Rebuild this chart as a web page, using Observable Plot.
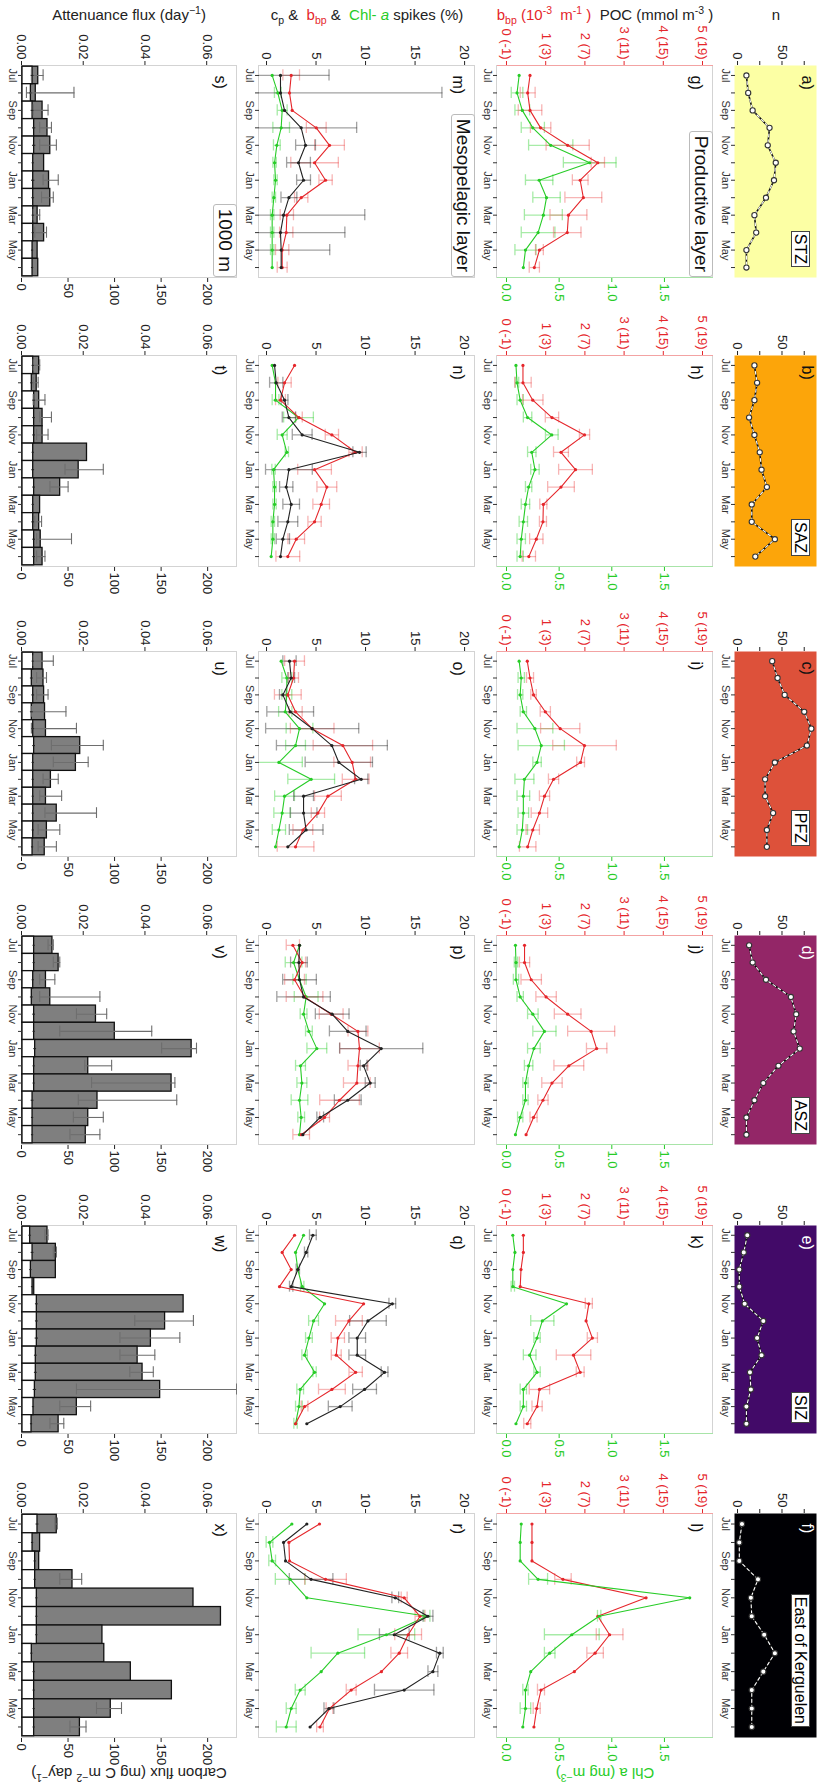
<!DOCTYPE html>
<html><head><meta charset="utf-8">
<script src="https://cdn.jsdelivr.net/npm/d3@7"></script>
<script src="https://cdn.jsdelivr.net/npm/@observablehq/plot@0.6"></script>
<style>
html,body{margin:0;padding:0;background:#fff;overflow:hidden;}
#page{position:relative;width:819px;height:1791px;overflow:hidden;background:#fff;}
#fig{position:absolute;left:0;top:0;width:1791px;height:819px;transform-origin:0 0;transform:translate(819px,0) rotate(90deg);font-family:"Liberation Sans",Arial,sans-serif;}
.zone{position:absolute;background:#fff;border:1px solid #444;font-size:16px;line-height:17px;padding:0 2px;color:#000;white-space:nowrap;}
.layer{position:absolute;background:#fff;border:1px solid #bbb;border-radius:3px;font-size:19px;line-height:22px;padding:0 4px;color:#111;white-space:nowrap;}
.ytitle{position:absolute;width:420px;height:22px;line-height:22px;text-align:center;font-size:15px;color:#222;white-space:nowrap;}
sub,sup{font-size:70%;line-height:0;}
</style></head>
<body><div id="page"><div id="fig"></div></div>
<script>
// ---------- categories / labels ----------
const months = ["Jul","Aug","Sep","Oct","Nov","Dec","Jan","Feb","Mar","Apr","May","Jun"];
const zones = ["STZ","SAZ","PFZ","ASZ","SIZ","East of Kerguelen"];
const zoneColors = ["#FCFFA4","#FCA50A","#DD513A","#932667","#420A68","#000004"];
const rowLetters = ["abcdef","ghijkl","mnopqr","stuvwx"];
const layerNames = ["Productive layer","Mesopelagic layer","1000 m"];
const nTicks = [0,25,50,75];
const bbpTicks = [0,1,2,3,4,5];
const chlTicks = [0,0.5,1,1.5];
const spikeTicks = [0,5,10,15,20];
const attTicks = [0,0.02,0.04,0.06];
const fluxTicks = [0,50,100,150,200];

// ---------- a-f: number of profiles ----------
const nObs = [
  [10,12,17,36,34,43,41,32,19,21,10,10],
  [19,22,19,13,19,25,27,33,16,16,42,20],
  [39,45,53,75,83,78,42,31,31,40,33,33],
  [13,17,32,60,66,63,70,46,29,19,10,10],
  [11,7,2,2,8,29,22,27,14,15,10,10],
  [5,2,2,23,15,16,30,42,29,16,16,16]
];

// ---------- g-l: productive layer ----------
const bbpProd = [
  [0.60,0.54,0.60,0.87,1.56,2.33,1.88,1.96,1.58,1.55,0.84,0.71],
  [0.42,0.42,0.67,1.16,1.99,1.39,1.76,1.39,0.94,0.93,0.76,0.57],
  [0.53,0.60,0.69,0.99,1.37,1.99,1.89,1.20,0.97,0.84,0.67,0.54],
  [0.46,0.46,0.63,1.01,1.56,2.16,2.30,1.59,1.16,0.93,0.69,0.50],
  [0.43,0.43,0.37,0.35,2.10,2.03,2.19,1.71,1.88,0.84,0.78,0.53],
  [0.65,0.65,0.65,1.44,3.56,2.33,2.63,2.26,1.73,0.88,0.77,0.70]
];
const bbpProdErr = [
  [0,0.19,0.30,0.26,0.55,0.17,0.20,0.47,0.47,0.35,0.10,0.13],
  [0,0.21,0.26,0.17,0.13,0.19,0.43,0.34,0.09,0.09,0.17,0.17],
  [0,0.09,0.07,0.13,0.50,0.81,0.10,0.13,0.13,0.21,0.17,0.21],
  [0,0.13,0.26,0.26,0.34,0.60,0.26,0.38,0.26,0.13,0.09,0],
  [0,0,0,0,0.09,0,0.13,0.44,0.10,0.26,0.13,0.09],
  [0,0,0,0.21,0,0,0.34,0.21,0,0.09,0.09,0]
];
const chlProd = [
  [0.12,0.10,0.15,0.25,0.42,0.79,0.31,0.38,0.35,0.30,0.18,0.16],
  [0.09,0.10,0.13,0.20,0.43,0.24,0.27,0.21,0.18,0.16,0.14,0.13],
  [0.12,0.14,0.13,0.16,0.27,0.33,0.29,0.17,0.16,0.16,0.15,0.12],
  [0.085,0.09,0.09,0.13,0.25,0.36,0.26,0.21,0.18,0.18,0.13,0.085],
  [0.06,0.08,0.06,0.06,0.57,0.34,0.29,0.22,0.29,0.16,0.16,0.09],
  [0.14,0.13,0.13,0.30,1.74,0.88,0.62,0.41,0.23,0.18,0.18,0.155]
];
const chlProdErr = [
  [0,0.055,0.07,0.11,0.21,0.25,0.13,0.13,0.18,0.16,0.10,0],
  [0,0.016,0.03,0.04,0.06,0.04,0.04,0.03,0.04,0.04,0.04,0.03],
  [0,0.03,0.025,0.03,0.17,0.22,0.04,0.09,0.06,0.05,0.05,0],
  [0,0.016,0.025,0.03,0.05,0.11,0.06,0.04,0.025,0.025,0.025,0],
  [0,0,0,0.016,0,0.11,0.03,0.06,0.03,0.03,0.03,0],
  [0,0,0,0.09,0,0.016,0.26,0.05,0,0.025,0.05,0]
];

// ---------- m-r: mesopelagic spikes (%) ----------
const cpMeso = [
  [1.41,1.41,1.82,3.50,3.94,3.23,3.74,2.26,1.72,1.41,1.48,1.48],
  [0.81,0.98,1.82,2.26,3.60,9.39,2.26,1.99,2.49,2.15,1.65,1.41],
  [2.32,2.49,1.65,2.39,4.61,6.60,7.30,9.56,3.74,3.74,4.00,2.15],
  [3.33,3.27,3.33,3.74,6.63,8.20,11.58,9.80,10.47,8.20,5.42,3.67],
  [4.68,4.00,3.16,2.49,12.70,10.24,9.16,9.16,11.92,9.90,7.44,4.07],
  [4.07,1.72,1.92,4.50,13.0,16.3,12.9,17.5,16.8,13.9,6.30,4.40]
];
const cpMesoErr = [
  [4.9,16.3,0,5.6,1.0,1.2,0.7,0.8,8.2,6.5,4.9,0],
  [0,0.67,0.34,0.67,1.0,0.67,2.36,0.67,0.84,1.0,0.67,0],
  [0.67,0.34,0.34,2.36,4.7,5.6,3.4,0.67,1.0,1.35,1.7,0],
  [0,0.84,1.7,2.7,1.7,1.85,4.2,0.34,0.5,1.35,0.34,0],
  [0.34,0.17,0.17,0.17,0.34,1.85,0.84,0.84,0.34,1.2,1.2,0],
  [0,0,0,2.2,0.34,0.5,1.5,0.34,0.5,3.0,0.5,0]
];
const bbpMeso = [
  [2.49,2.32,2.59,5.02,6.36,4.85,5.96,3.50,2.05,1.99,1.58,1.58],
  [2.83,1.82,1.41,3.27,6.60,8.99,4.85,6.09,5.52,4.85,3.00,2.15],
  [2.83,2.73,2.15,2.93,4.61,7.71,8.65,9.00,6.20,5.19,3.67,2.93],
  [2.66,3.60,2.83,3.84,6.53,9.23,9.39,9.23,9.12,7.37,5.86,3.50],
  [2.83,1.58,2.49,1.31,9.80,8.32,7.20,7.04,9.00,6.60,3.84,2.93],
  [5.35,2.26,2.32,5.96,13.9,15.5,14.3,13.4,11.6,8.55,6.36,5.40]
];
const bbpMesoErr = [
  [0.84,0,0,1.0,1.5,2.4,0.67,0.67,0.67,0.67,0.67,0.5],
  [0,0.67,0.5,0.34,0.67,0.67,1.7,1.0,0.84,0.67,0.84,1.2],
  [1.0,0.5,1.35,0.67,2.2,3.0,1.85,1.35,1.35,0.67,1.0,1.85],
  [0.67,0.34,1.0,1.85,1.2,1.0,2.0,1.0,1.35,2.0,0.5,0.84],
  [0,0,0,0,0,1.35,0.67,0.5,0.67,1.35,0.34,0],
  [0,0,0,2.1,0.3,0.5,1.35,0.84,0,0.5,0.34,0.34]
];
const chlMeso = [
  [0.57,1.14,1.58,1.48,1.04,0.81,0.91,0.74,0.57,0.57,0.57,0.57],
  [0.57,0.91,0.91,3.23,1.58,2.05,0.71,0.81,0.81,0.64,0.64,0.47],
  [1.48,2.05,2.05,1.89,3.33,2.93,1.25,4.51,1.82,1.58,1.25,0.91],
  [3.33,2.73,3.33,4.00,3.74,4.28,5.08,3.43,3.57,3.33,3.50,3.33],
  [3.74,2.93,3.16,3.60,5.86,4.75,4.28,3.84,4.85,3.40,3.27,2.93],
  [2.56,0.30,0.57,2.39,4.07,16.2,12.1,7.20,5.52,3.40,2.49,1.99]
];
const chlMesoErr = [
  [0,0.34,0.5,0.84,0.34,0.17,0.17,0.17,0.17,0.17,0.17,0],
  [0,0,0.34,1.5,0.5,0.17,0.17,0.17,0.17,0.17,0.17,0],
  [0,0.5,0.5,0.67,1.35,1.0,2.36,2.36,1.0,0.84,0.67,0],
  [0,0.84,0.67,1.2,0.34,0.34,1.0,0.5,0.5,0.84,0.34,0],
  [0,0,0,0.17,0,0.5,0.34,0.27,0.17,0.34,0.34,0.17],
  [0,0.34,0.34,1.5,0,0.3,2.86,2.7,0,0.5,0.5,1.0]
];

// ---------- s-x: 1000 m ----------
const attFlux = [
  [.0051,.0043,.0065,.0081,.0090,.0070,.0086,.0090,.0049,.0070,.0049,.0051],
  [.0054,.0046,.0054,.0065,.0065,.0209,.0182,.0122,.0057,.0054,.0059,.0065],
  [.0065,.0068,.0070,.0073,.0076,.0187,.0173,.0092,.0076,.0111,.0079,.0072],
  [.0097,.0117,.0076,.0090,.0238,.0299,.0548,.0213,.0483,.0243,.0213,.0205],
  [.0081,.0108,.0108,.0038,.0522,.0462,.0416,.0373,.0389,.0446,.0176,.0117],
  [.0111,.0057,.0054,.0162,.0554,.0643,.0259,.0265,.0351,.0484,.0286,.0186]
];
const attLo = [
  [.0032,.0016,.0038,.0059,.0059,null,.0070,.0065,.0038,.0043,null,null],
  [.0038,.0038,.0038,.0059,.0049,null,.0141,.0092,null,.0043,.0049,.0049],
  [.0038,.0049,.0049,.0032,.0032,.0097,.0103,.0070,.0059,.0076,.0054,.0054],
  [.0086,.0103,.0059,.0059,.0178,.0124,.0454,.0205,.0227,.0184,.0168,.0157],
  [.0076,.0103,null,null,null,.0367,.0319,.0319,.0351,.0178,.0124,.0092],
  [.0108,null,null,.0124,null,null,null,null,null,null,.0243,.0157]
];
const attHi = [
  [.0070,.0170,.0086,.0097,.0113,null,.0119,.0103,.0059,.0081,null,null],
  [.0059,.0054,.0076,.0097,.0086,null,.0265,.0151,null,.0065,.0162,.0076],
  [.0103,.0081,.0086,.0144,.0178,.0265,.0216,.0119,.0130,.0243,.0124,.0113],
  [.0103,.0124,.0108,.0254,.0276,.0422,.0567,.0292,.0497,.0503,.0265,.0254],
  [.0086,.0113,null,null,null,.0557,.0513,.0432,.0427,.0697,.0224,.0137],
  [.0116,null,null,.0195,null,null,null,null,null,null,.0324,.0209]
];
const carbonFlux = [
  [10.8,9.0,10.8,12.5,12.5,11.5,11.5,11.5,11.5,11.5,10.8,10.8],
  [11.5,10.0,12.5,12.5,12.5,11.5,11.5,12.5,11.5,11.5,12.5,12.5],
  [11.5,10.0,11.5,10.0,11.5,12.5,11.5,11.5,11.5,11.5,11.5,10.8],
  [12.5,12.5,11.5,10.0,12.5,12.5,13.6,12.5,12.5,10.8,10.8,10.8],
  [8.2,10.8,9.0,10.8,15.4,15.4,15.4,14.3,14.3,13.3,11.8,9.7],
  [16.1,10.8,13.6,13.6,15.4,15.4,15.4,10.0,12.5,12.5,12.5,12.5]
];
const carbonFluxErr = [
  [1.5,1.2,1.5,1.8,1.8,1.2,1.8,1.5,1.2,1.2,1.2,1.2],
  [1.2,1.2,1.5,1.5,1.5,1.2,1.5,1.5,1.2,1.5,1.5,1.5],
  [1.2,1.5,1.5,1.5,1.5,1.5,1.2,1.2,1.2,1.2,1.2,1.2],
  [1.2,1.2,1.2,1.5,1.5,1.2,1.5,1.2,1.2,1.5,1.2,1.2],
  [1.2,1.5,1.2,1.2,1.5,1.5,1.8,1.5,1.5,1.8,1.2,1.2],
  [1.5,1.2,1.2,1.2,1.2,1.2,1.2,1.2,1.2,1.2,1.2,1.2]
];

// ---------- layout (original, un-rotated figure) ----------
const colX = [65,355,651,935,1225,1513];
const colW = [212,211,205,209,208,224];
const rowY = [2,106,344,582];
const rowH = [82,216,216,215];
const ML = 74, MR = 54, MT = 2, MB = 24;
const xDomain = [-0.57, 11.57];
const K_CHL = 105.3/39.2;   // chl axis aligned on bbp axis
const K_ATT = 3316;         // attenuance axis aligned on carbon flux axis
const CAP = 0.32;

const RED = "#e5262b", GREEN = "#27cc27", BLACK = "#222";
const RED_E = "rgba(238,90,90,0.45)", GREEN_E = "rgba(80,215,80,0.5)", BLACK_E = "rgba(70,70,70,0.5)";
const FRAME = "#d3d3d3";

const fig = document.getElementById("fig");

function mkPlot(ci, ri, yDomain, marks) {
  const svg = Plot.plot({
    width: colW[ci] + ML + MR, height: rowH[ri] + MT + MB,
    marginLeft: ML, marginRight: MR, marginTop: MT, marginBottom: MB,
    x: {domain: xDomain},
    y: {domain: yDomain},
    style: {background: "transparent", fontFamily: "Liberation Sans, Arial, sans-serif", overflow: "visible", color: "#222"},
    marks
  });
  svg.style.position = "absolute";
  svg.style.left = (colX[ci] - ML) + "px";
  svg.style.top = (rowY[ri] - MT) + "px";
  svg.style.maxWidth = "none";
  fig.appendChild(svg);
}
function monthAxis() {
  return Plot.axisX({anchor: "bottom", ticks: d3.range(12), tickFormat: i => i % 2 === 0 ? months[i] : "",
    tickSize: 4, tickPadding: 1, fontSize: 11, color: "#333", label: null});
}
function letter(ci, ri) {
  const dark = ri === 0 && ci >= 3;
  return Plot.text([rowLetters[ri][ci] + ")"], {frameAnchor: "top-left", text: d => d, dx: 10, dy: ri === 0 ? 3 : 10,
    fontSize: 16, fill: dark ? "#fff" : "#111", textAnchor: "start", lineAnchor: "top"});
}
function errBars(data, key, eKey, color, k = 1) {
  const f = data.filter(d => d[eKey] > 0);
  const lo = d => (d[key] - d[eKey]) * k, hi = d => (d[key] + d[eKey]) * k;
  const o = {stroke: color, strokeWidth: 1.3, clip: true};
  return [
    Plot.ruleX(f, {x: "i", y1: lo, y2: hi, ...o}),
    Plot.ruleY(f, {y: lo, x1: d => d.i - CAP, x2: d => d.i + CAP, ...o}),
    Plot.ruleY(f, {y: hi, x1: d => d.i - CAP, x2: d => d.i + CAP, ...o})
  ];
}
function series(data, key, color, k = 1) {
  return [
    Plot.line(data, {x: "i", y: d => d[key] * k, stroke: color, strokeWidth: 1.1, clip: true}),
    Plot.dot(data, {x: "i", y: d => d[key] * k, r: 1.6, fill: color, stroke: "none", clip: true})
  ];
}
const axOpts = {tickSize: 4, tickPadding: 2, fontSize: 13, label: null};

zones.forEach((zone, ci) => {
  // row 1: n
  const d1 = months.map((m, i) => ({i, n: nObs[ci][i]}));
  mkPlot(ci, 0, [-3.4, 88.8], [
    Plot.frame({fill: zoneColors[ci], stroke: "none"}),
    Plot.line(d1, {x: "i", y: "n", stroke: "#111", strokeWidth: 1.6}),
    Plot.line(d1, {x: "i", y: "n", stroke: "#fff", strokeWidth: 1.1, strokeDasharray: "3,3"}),
    Plot.dot(d1, {x: "i", y: "n", r: 2.6, fill: "#fff", stroke: "#333", strokeWidth: 1.1}),
    Plot.axisY({anchor: "left", ticks: nTicks, tickFormat: d => d % 50 === 0 ? String(d) : "", color: "#222", ...axOpts}),
    monthAxis(),
    letter(ci, 0)
  ]);

  // row 2: productive layer
  const d2 = months.map((m, i) => ({i, bbp: bbpProd[ci][i], bbpE: bbpProdErr[ci][i], chl: chlProd[ci][i], chlE: chlProdErr[ci][i]}));
  mkPlot(ci, 1, [-0.255, 5.255], [
    Plot.frame({stroke: FRAME}),
    Plot.ruleX([xDomain[0]], {stroke: "#f3a3a3"}),
    Plot.ruleX([xDomain[1]], {stroke: "#a8e4a8"}),
    ...errBars(d2, "chl", "chlE", GREEN_E, K_CHL),
    ...errBars(d2, "bbp", "bbpE", RED_E),
    ...series(d2, "bbp", RED),
    ...series(d2, "chl", GREEN, K_CHL),
    Plot.axisY({anchor: "left", ticks: bbpTicks, tickFormat: d => `${d} (${4 * d - 1})`, color: RED, ...axOpts}),
    Plot.axisY({anchor: "right", ticks: chlTicks.map(v => v * K_CHL), tickFormat: d => (d / K_CHL).toFixed(1), color: GREEN, ...axOpts}),
    monthAxis(),
    letter(ci, 1)
  ]);

  // row 3: mesopelagic spikes
  const d3r = months.map((m, i) => ({i, cp: cpMeso[ci][i], cpE: cpMesoErr[ci][i], bbp: bbpMeso[ci][i], bbpE: bbpMesoErr[ci][i], chl: chlMeso[ci][i], chlE: chlMesoErr[ci][i]}));
  mkPlot(ci, 2, [-0.81, 21.0], [
    Plot.frame({stroke: FRAME}),
    ...errBars(d3r, "chl", "chlE", GREEN_E),
    ...errBars(d3r, "bbp", "bbpE", RED_E),
    ...errBars(d3r, "cp", "cpE", BLACK_E),
    ...series(d3r, "chl", GREEN),
    ...series(d3r, "bbp", RED),
    ...series(d3r, "cp", BLACK),
    Plot.axisY({anchor: "left", ticks: spikeTicks, color: "#222", ...axOpts}),
    monthAxis(),
    letter(ci, 2)
  ]);

  // row 4: 1000 m fluxes
  const d4 = months.map((m, i) => ({i, att: attFlux[ci][i], lo: attLo[ci][i], hi: attHi[ci][i], cf: carbonFlux[ci][i], cfE: carbonFluxErr[ci][i]}));
  const e4 = d4.filter(d => d.lo != null);
  const eo = {stroke: "#6e6e6e", strokeWidth: 1.1, clip: true};
  mkPlot(ci, 3, [0, 231], [
    Plot.frame({stroke: FRAME}),
    Plot.rect(d4, {x1: d => d.i - 0.5, x2: d => d.i + 0.5, y1: 0, y2: d => d.att * K_ATT, fill: "#7f7f7f", stroke: "#111", strokeWidth: 1.3}),
    Plot.rect(d4, {x1: d => d.i - 0.5, x2: d => d.i + 0.5, y1: 0, y2: d => d.cf, fill: "#fff", stroke: "#111", strokeWidth: 1.3}),
    Plot.ruleX(e4, {x: "i", y1: d => d.lo * K_ATT, y2: d => d.hi * K_ATT, ...eo}),
    Plot.ruleY(e4, {y: d => d.lo * K_ATT, x1: d => d.i - CAP, x2: d => d.i + CAP, ...eo}),
    Plot.ruleY(e4, {y: d => d.hi * K_ATT, x1: d => d.i - CAP, x2: d => d.i + CAP, ...eo}),
    Plot.ruleX(d4, {x: "i", y1: d => d.cf - d.cfE, y2: d => d.cf + d.cfE, stroke: "#222", strokeWidth: 1.1}),
    Plot.axisY({anchor: "left", ticks: attTicks.map(v => v * K_ATT), tickFormat: d => (d / K_ATT).toFixed(2), color: "#222", ...axOpts}),
    Plot.axisY({anchor: "right", ticks: fluxTicks, color: "#222", ...axOpts}),
    monthAxis(),
    letter(ci, 3)
  ]);

  // zone label box
  const z = document.createElement("div");
  z.className = "zone";
  z.textContent = zone;
  z.style.right = (1791 - (colX[ci] + colW[ci] - 10)) + "px";
  z.style.top = "9px";
  fig.appendChild(z);
});

// layer labels in first column
layerNames.forEach((name, k) => {
  const b = document.createElement("div");
  b.className = "layer";
  b.textContent = name;
  b.style.right = (1791 - (colX[0] + colW[0])) + "px";
  b.style.top = rowY[k + 1] + "px";
  fig.appendChild(b);
});

// axis titles
function ytitle(html, x, ri, rot, color) {
  const t = document.createElement("div");
  t.className = "ytitle";
  t.innerHTML = html;
  t.style.left = (x - 210) + "px";
  t.style.top = (rowY[ri] + rowH[ri] / 2 - 11) + "px";
  t.style.transform = `rotate(${rot}deg)`;
  if (color) t.style.color = color;
  fig.appendChild(t);
}
ytitle("n", 15, 0, -90);
ytitle(`<span style="color:${RED}">b<sub>bp</sub> (10<sup>-3</sup>&nbsp; m<sup>-1</sup> )</span>&nbsp; POC (mmol m<sup>-3</sup> )`, 15, 1, -90);
ytitle(`c<sub>p</sub> &amp;&nbsp; <span style="color:${RED}">b<sub>bp</sub></span> &amp;&nbsp; <span style="color:${GREEN}">Chl- <i>a</i></span> spikes (%)`, 15, 2, -90);
ytitle(`Attenuance flux (day<sup>&minus;1</sup>)`, 15, 3, -90);
ytitle(`Chl a (mg m<sup>&minus;3</sup>)`, 1773, 1, 90, GREEN);
ytitle(`Carbon flux (mg C m<sup>&minus;2</sup> day<sup>&minus;1</sup>)`, 1773, 3, 90);
</script></body></html>
